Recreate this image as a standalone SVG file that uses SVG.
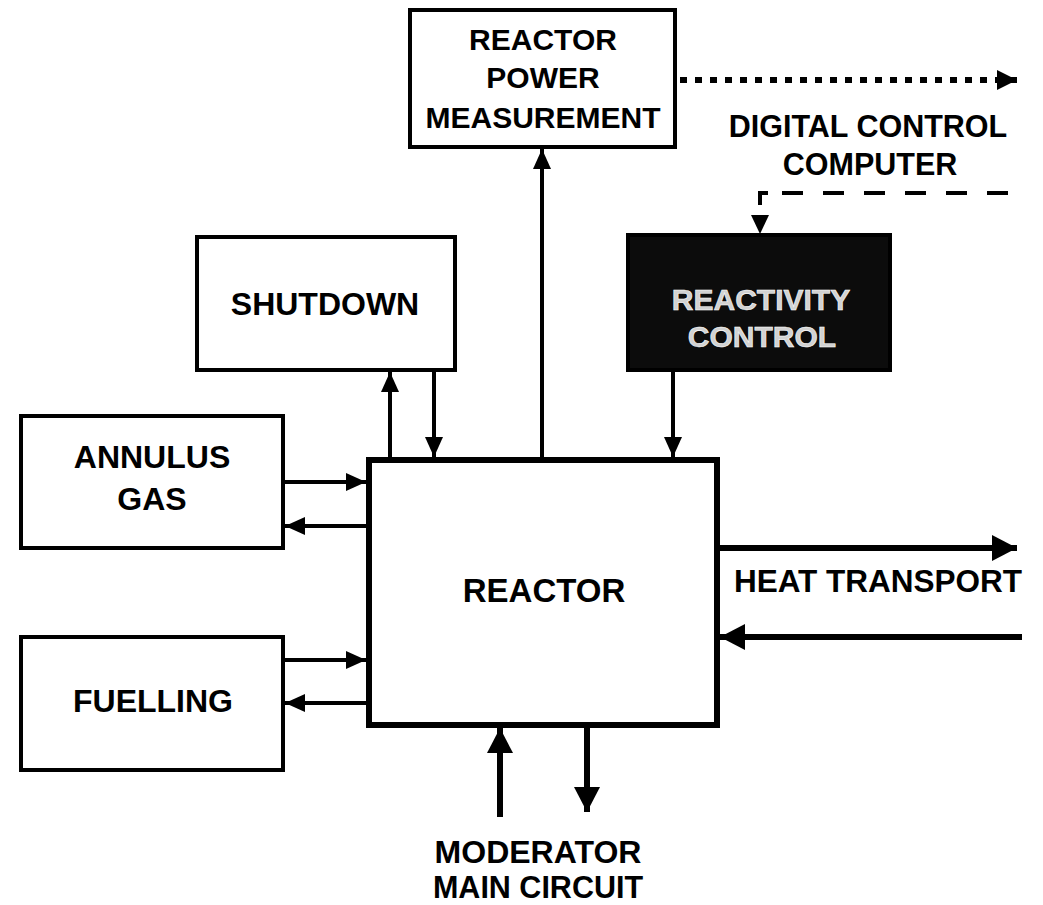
<svg xmlns="http://www.w3.org/2000/svg" width="1043" height="905" viewBox="0 0 1043 905">
  <style>
    .box { fill: #ffffff; stroke: #000000; stroke-width: 4; }
    .rbox { fill: #ffffff; stroke: #000000; stroke-width: 6; }
    .dark { fill: #0c0c0c; stroke: #000000; stroke-width: 4; }
    .lbl { font-family: "Liberation Sans", Arial, sans-serif; font-weight: bold; fill: #000000; text-anchor: middle; }
    .inv { font-family: "Liberation Sans", Arial, sans-serif; font-weight: bold; fill: #d2d2d2; stroke: #ffffff; stroke-width: 0.6; text-anchor: middle; }
    .ln { fill: none; stroke: #000000; stroke-width: 4; }
    .thick { fill: none; stroke: #000000; stroke-width: 6; }
    .dot { fill: none; stroke: #000000; stroke-width: 6; stroke-dasharray: 7 8; }
    .dash { fill: none; stroke: #000000; stroke-width: 4; stroke-dasharray: 21 20; }
  </style>
  <defs>
    <marker id="ah" markerUnits="userSpaceOnUse" markerWidth="20" markerHeight="18" refX="20" refY="9" orient="auto">
      <path d="M0,0 L20,9 L0,18 z" fill="#000000"/>
    </marker>
    <marker id="ahD" markerUnits="userSpaceOnUse" markerWidth="20" markerHeight="20" refX="20" refY="10" orient="auto">
      <path d="M0,0 L20,10 L0,20 z" fill="#000000"/>
    </marker>
    <marker id="ahL" markerUnits="userSpaceOnUse" markerWidth="25" markerHeight="26" refX="25" refY="13" orient="auto">
      <path d="M0,0 L25,13 L0,26 z" fill="#000000"/>
    </marker>
  </defs>

  <g id="connectors">
    <line class="ln" x1="542" y1="457" x2="542" y2="149" marker-end="url(#ah)"/>
    <line class="ln" x1="390" y1="457" x2="390" y2="372" marker-end="url(#ah)"/>
    <line class="ln" x1="434" y1="372" x2="434" y2="457" marker-end="url(#ah)"/>
    <line class="ln" x1="673" y1="372" x2="673" y2="457" marker-end="url(#ah)"/>
    <line class="ln" x1="285" y1="482" x2="366" y2="482" marker-end="url(#ah)"/>
    <line class="ln" x1="366" y1="526" x2="285" y2="526" marker-end="url(#ah)"/>
    <line class="ln" x1="285" y1="660" x2="366" y2="660" marker-end="url(#ah)"/>
    <line class="ln" x1="366" y1="703" x2="285" y2="703" marker-end="url(#ah)"/>
    <line class="thick" x1="720" y1="548" x2="1017" y2="548" marker-end="url(#ahL)"/>
    <line class="thick" x1="1022" y1="637" x2="720" y2="637" marker-end="url(#ahL)"/>
    <line class="thick" x1="500" y1="817" x2="500" y2="728" marker-end="url(#ahL)"/>
    <line class="thick" x1="587" y1="728" x2="587" y2="812" marker-end="url(#ahL)"/>
    <line class="dot" x1="680" y1="80" x2="1017" y2="80" marker-end="url(#ahD)"/>
    <polyline class="ln" points="768,193 760,193 760,205"/>
    <line class="dash" x1="782" y1="193" x2="1022" y2="193"/>
    <polygon points="751,215 769,215 760,234" fill="#000000"/>
  </g>

  <g id="power-measurement">
    <rect class="box" x="410" y="10" width="265" height="137"/>
    <text class="lbl" x="543" y="50" font-size="30">REACTOR</text>
    <text class="lbl" x="543" y="88" font-size="30">POWER</text>
    <text class="lbl" x="543" y="128" font-size="30">MEASUREMENT</text>
  </g>

  <g id="digital-control-computer">
    <text class="lbl" x="868" y="137" font-size="30.5">DIGITAL CONTROL</text>
    <text class="lbl" x="870" y="175" font-size="30.5">COMPUTER</text>
  </g>

  <g id="shutdown">
    <rect class="box" x="197" y="237" width="258" height="133"/>
    <text class="lbl" x="325" y="315" font-size="32">SHUTDOWN</text>
  </g>

  <g id="reactivity-control">
    <rect class="dark" x="628" y="235" width="262" height="135"/>
    <text class="inv" x="761" y="310" font-size="30">REACTIVITY</text>
    <text class="inv" x="762" y="347" font-size="30">CONTROL</text>
  </g>

  <g id="annulus-gas">
    <rect class="box" x="21" y="416" width="262" height="132"/>
    <text class="lbl" x="152" y="468" font-size="32">ANNULUS</text>
    <text class="lbl" x="152" y="510" font-size="32">GAS</text>
  </g>

  <g id="fuelling">
    <rect class="box" x="21" y="637" width="262" height="133"/>
    <text class="lbl" x="153" y="712" font-size="32">FUELLING</text>
  </g>

  <g id="reactor">
    <rect class="rbox" x="369" y="460" width="348" height="265"/>
    <text class="lbl" x="544" y="602" font-size="33">REACTOR</text>
  </g>

  <g id="heat-transport">
    <text class="lbl" x="878" y="592" font-size="31.5">HEAT TRANSPORT</text>
  </g>

  <g id="moderator-main-circuit">
    <text class="lbl" x="538" y="863" font-size="32">MODERATOR</text>
    <text class="lbl" x="538" y="898" font-size="30.5">MAIN CIRCUIT</text>
  </g>
</svg>
